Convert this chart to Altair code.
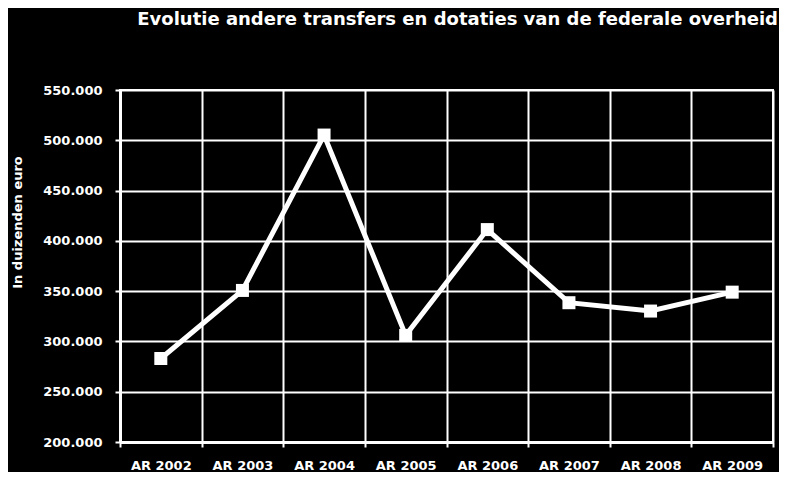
import altair as alt
import pandas as pd

years = ["AR 2002", "AR 2003", "AR 2004", "AR 2005", "AR 2006", "AR 2007", "AR 2008", "AR 2009"]
values = [283000, 350700, 505200, 306000, 411200, 338500, 330200, 349000]
y_ticks = [200000, 250000, 300000, 350000, 400000, 450000, 500000, 550000]

df = pd.DataFrame({"jaar": years, "waarde": values})

FONT = "DejaVu Sans"
W = "#ffffff"

x = alt.X("jaar:N", sort=years, title=None,
          scale=alt.Scale(paddingInner=0, paddingOuter=0),
          axis=alt.Axis(tickBand="extent", labelAngle=0, grid=True, gridColor=W, gridWidth=2,
                        gridOpacity=1, domainColor=W, domainWidth=3, tickColor=W, tickWidth=2,
                        tickSize=5, labelPadding=12, labelColor=W, labelFont=FONT,
                        labelFontSize=13, labelFontWeight="bold"))
y = alt.Y("waarde:Q", title="In duizenden euro",
          scale=alt.Scale(domain=[200000, 550000], nice=False, zero=False),
          axis=alt.Axis(values=y_ticks, grid=True, gridColor=W, gridWidth=2, gridOpacity=1,
                        domainColor=W, domainWidth=3, tickColor=W, tickWidth=2, tickSize=5,
                        labelPadding=13, labelColor=W, labelFont=FONT, labelFontSize=13,
                        labelFontWeight="bold",
                        labelExpr="replace(format(datum.value, ','), ',', '.')",
                        titleColor=W, titleFont=FONT, titleFontSize=13, titleFontWeight="bold",
                        titleX=-103, titleY=132, titleAngle=270, titleAlign="center",
                        titleBaseline="middle"))

base = alt.Chart(df).encode(x=x, y=y)
line = base.mark_line(color=W, strokeWidth=5)
pts = base.mark_point(shape="square", filled=True, size=169, color=W, opacity=1)

chart = (line + pts).properties(
    width=653, height=352,
    title=alt.TitleParams("Evolutie andere transfers en dotaties van de federale overheid",
                          anchor="end", frame="group", offset=55, dx=5,
                          font=FONT, fontSize=18, fontWeight="bold", color=W),
    background="#000000",
    autosize=alt.AutoSizeParams(type="none"),
    padding={"left": 112, "top": 82, "right": 6, "bottom": 30},
).configure_view(stroke=W, strokeWidth=2)

chart.save("out.html", embed_options={"renderer": "svg", "actions": False})
